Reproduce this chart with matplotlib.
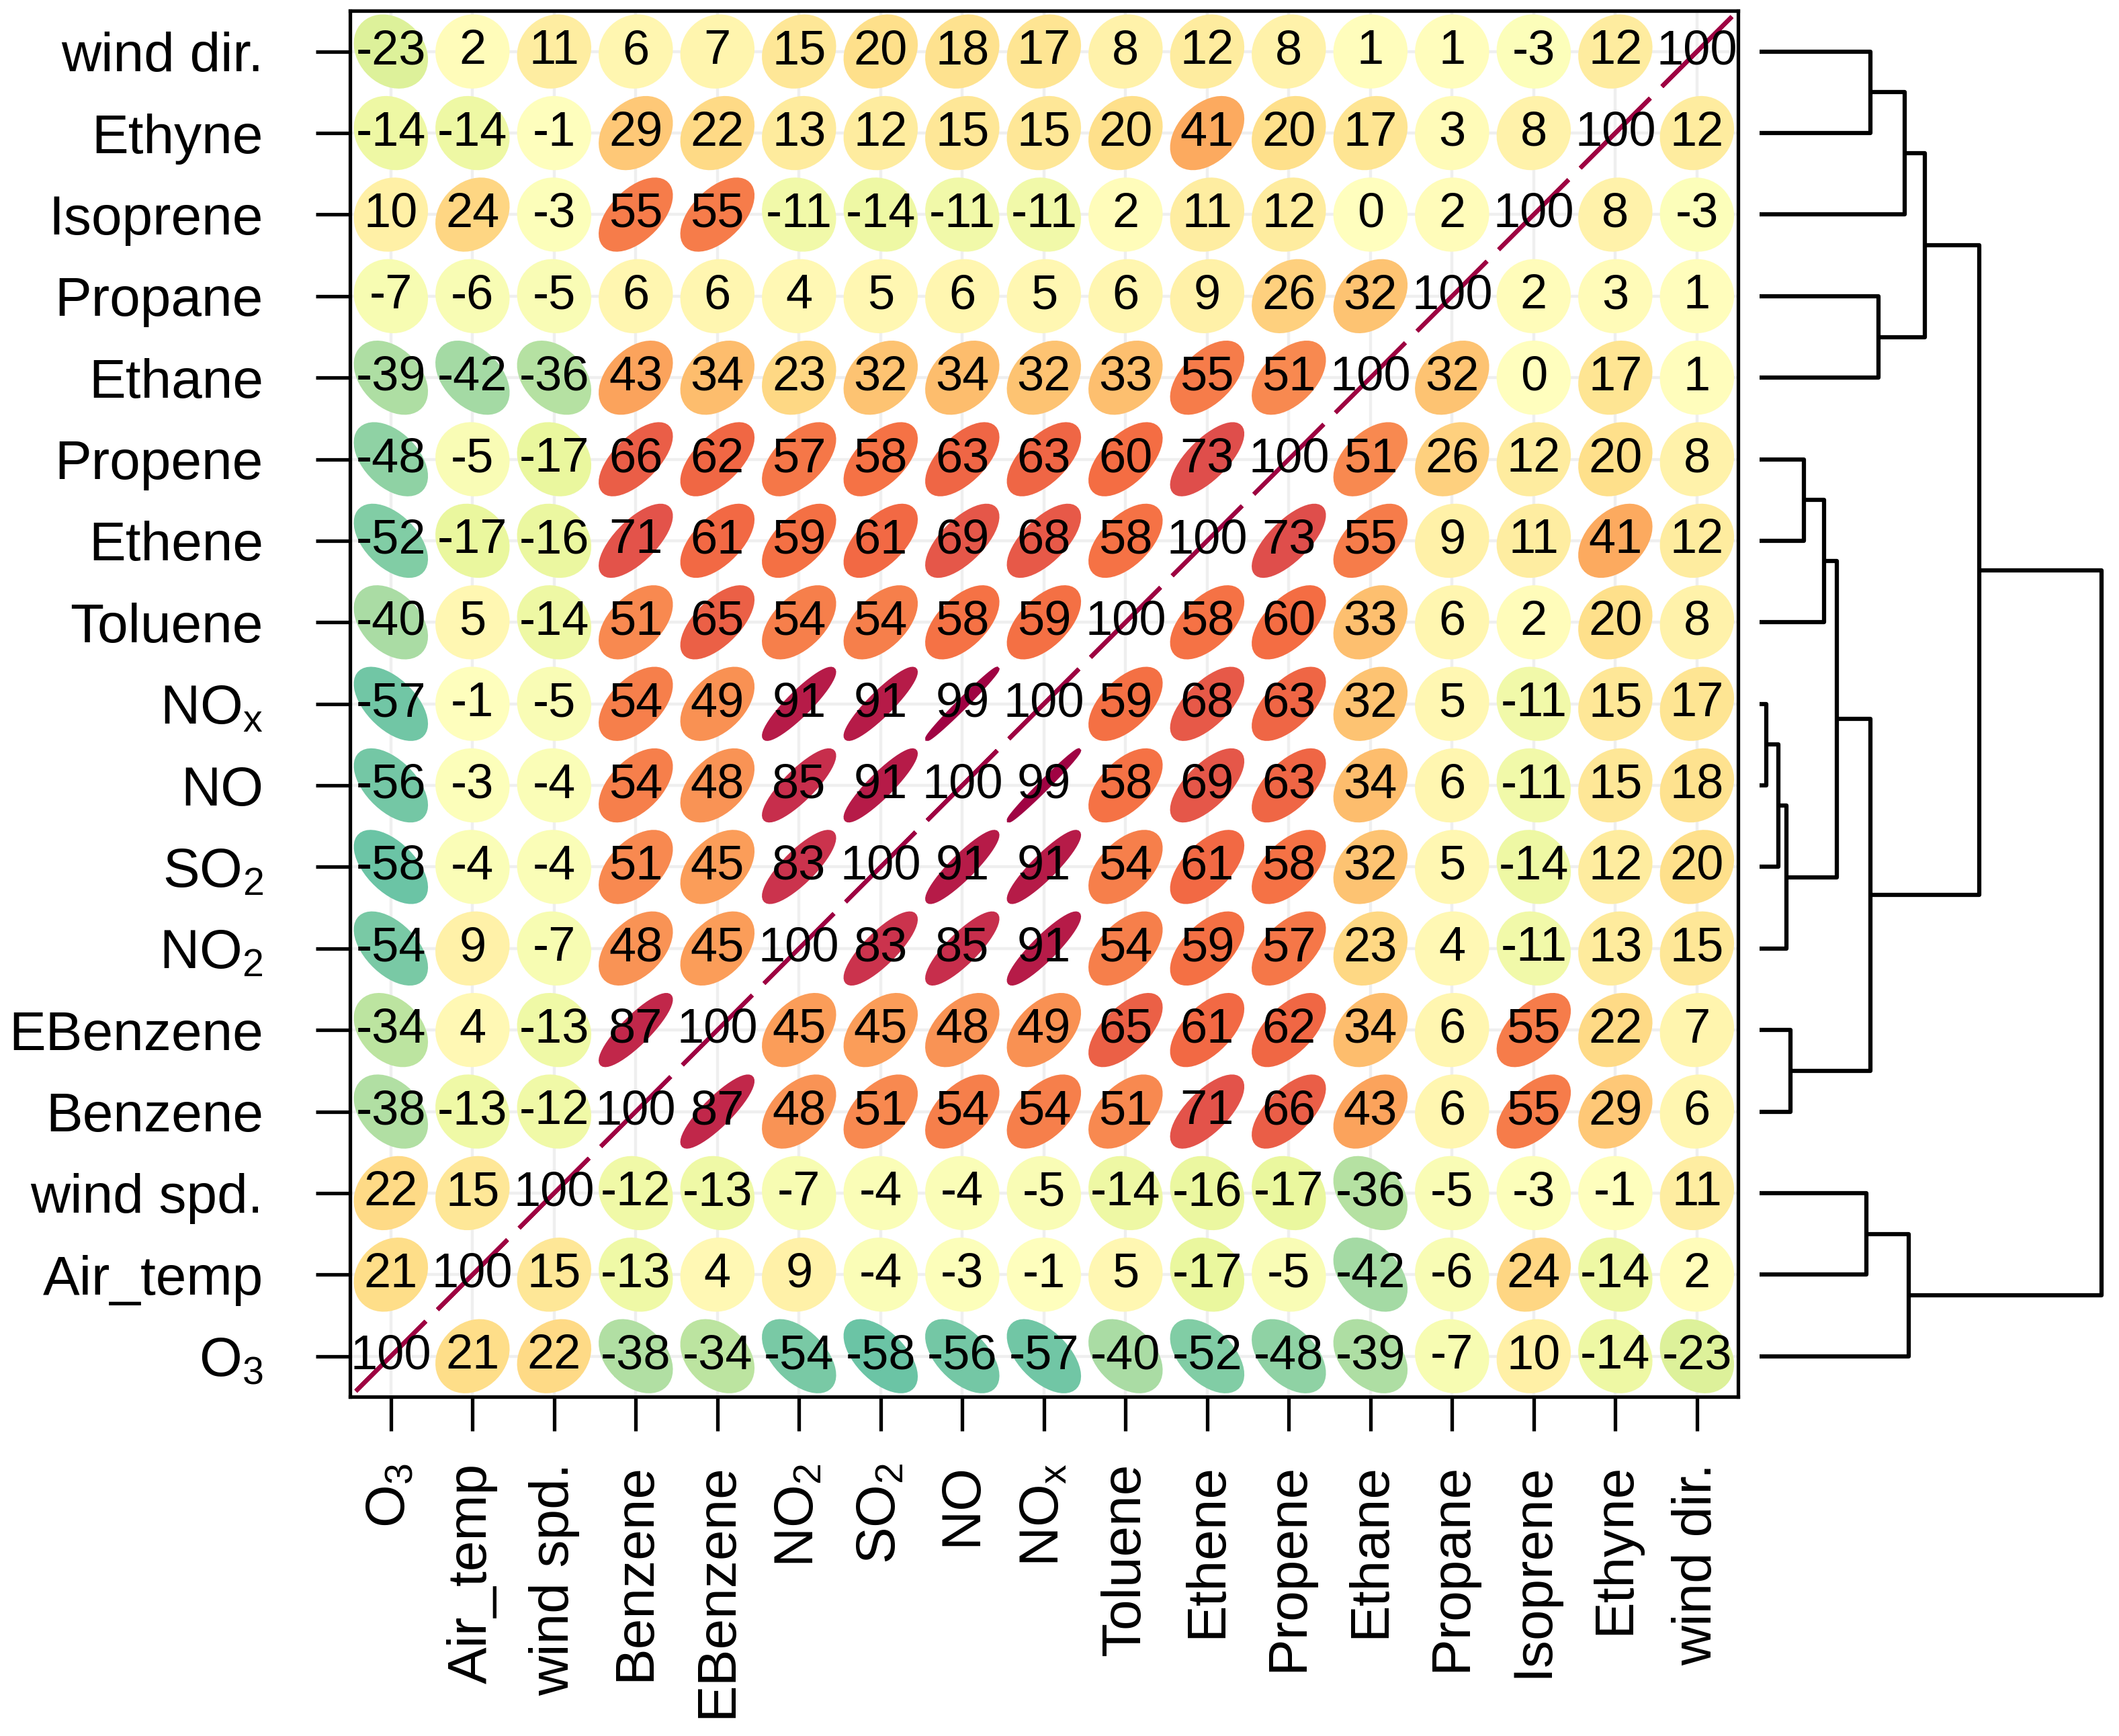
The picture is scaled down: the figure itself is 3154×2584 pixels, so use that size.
import numpy as np
import matplotlib
matplotlib.use('Agg')
import matplotlib.pyplot as plt
from matplotlib.patches import Polygon
from matplotlib.colors import Normalize

plt.rcParams['font.family'] = ['Liberation Sans', 'DejaVu Sans']
plt.rcParams['mathtext.fontset'] = 'custom'
plt.rcParams['mathtext.rm'] = 'Liberation Sans'

# ---- data (order = bottom-to-top on y, left-to-right on x) ----
variables = ['O3', 'Air_temp', 'wind spd.', 'Benzene', 'EBenzene', 'NO2', 'SO2',
             'NO', 'NOx', 'Toluene', 'Ethene', 'Propene', 'Ethane', 'Propane',
             'Isoprene', 'Ethyne', 'wind dir.']
labels = [r'$\mathregular{O_3}$', 'Air_temp', 'wind spd.', 'Benzene', 'EBenzene',
          r'$\mathregular{NO_2}$', r'$\mathregular{SO_2}$', 'NO', r'$\mathregular{NO_x}$',
          'Toluene', 'Ethene', 'Propene', 'Ethane', 'Propane', 'Isoprene',
          'Ethyne', 'wind dir.']

# correlation (x100), one row per variable, columns in the same order
corr_O3       = [100, 21, 22, -38, -34, -54, -58, -56, -57, -40, -52, -48, -39, -7, 10, -14, -23]
corr_Air_temp = [21, 100, 15, -13, 4, 9, -4, -3, -1, 5, -17, -5, -42, -6, 24, -14, 2]
corr_wind_spd = [22, 15, 100, -12, -13, -7, -4, -4, -5, -14, -16, -17, -36, -5, -3, -1, 11]
corr_Benzene  = [-38, -13, -12, 100, 87, 48, 51, 54, 54, 51, 71, 66, 43, 6, 55, 29, 6]
corr_EBenzene = [-34, 4, -13, 87, 100, 45, 45, 48, 49, 65, 61, 62, 34, 6, 55, 22, 7]
corr_NO2      = [-54, 9, -7, 48, 45, 100, 83, 85, 91, 54, 59, 57, 23, 4, -11, 13, 15]
corr_SO2      = [-58, -4, -4, 51, 45, 83, 100, 91, 91, 54, 61, 58, 32, 5, -14, 12, 20]
corr_NO       = [-56, -3, -4, 54, 48, 85, 91, 100, 99, 58, 69, 63, 34, 6, -11, 15, 18]
corr_NOx      = [-57, -1, -5, 54, 49, 91, 91, 99, 100, 59, 68, 63, 32, 5, -11, 15, 17]
corr_Toluene  = [-40, 5, -14, 51, 65, 54, 54, 58, 59, 100, 58, 60, 33, 6, 2, 20, 8]
corr_Ethene   = [-52, -17, -16, 71, 61, 59, 61, 69, 68, 58, 100, 73, 55, 9, 11, 41, 12]
corr_Propene  = [-48, -5, -17, 66, 62, 57, 58, 63, 63, 60, 73, 100, 51, 26, 12, 20, 8]
corr_Ethane   = [-39, -42, -36, 43, 34, 23, 32, 34, 32, 33, 55, 51, 100, 32, 0, 17, 1]
corr_Propane  = [-7, -6, -5, 6, 6, 4, 5, 6, 5, 6, 9, 26, 32, 100, 2, 3, 1]
corr_Isoprene = [10, 24, -3, 55, 55, -11, -14, -11, -11, 2, 11, 12, 0, 2, 100, 8, -3]
corr_Ethyne   = [-14, -14, -1, 29, 22, 13, 12, 15, 15, 20, 41, 20, 17, 3, 8, 100, 12]
corr_wind_dir = [-23, 2, 11, 6, 7, 15, 20, 18, 17, 8, 12, 8, 1, 1, -3, 12, 100]

corr = np.array([corr_O3, corr_Air_temp, corr_wind_spd, corr_Benzene, corr_EBenzene,
                 corr_NO2, corr_SO2, corr_NO, corr_NOx, corr_Toluene, corr_Ethene,
                 corr_Propene, corr_Ethane, corr_Propane, corr_Isoprene, corr_Ethyne,
                 corr_wind_dir])

# dendrogram merges: (left, right, height); 0..16 = variables, 17+ = earlier merges
merges = [
    (8, 7, 0.02),      # 17 NOx + NO
    (17, 6, 0.056),    # 18 + SO2
    (18, 5, 0.079),    # 19 + NO2
    (4, 3, 0.091),     # 20 EBenzene + Benzene
    (11, 10, 0.131),   # 21 Propene + Ethene
    (21, 9, 0.19),     # 22 + Toluene
    (22, 19, 0.226),   # 23
    (23, 20, 0.325),   # 24
    (16, 15, 0.325),   # 25 wind dir. + Ethyne
    (25, 14, 0.425),   # 26 + Isoprene
    (13, 12, 0.349),   # 27 Propane + Ethane
    (26, 27, 0.484),   # 28
    (2, 1, 0.313),     # 29 wind spd. + Air_temp
    (29, 0, 0.437),    # 30 + O3
    (28, 24, 0.643),   # 31
    (31, 30, 1.0),     # 32 root
]

# ---- figure ----
fig = plt.figure(figsize=(31.54, 25.84), dpi=100)
ax = fig.add_axes([0.1652, 0.1953, 0.6549, 0.7985])
n = len(variables)
ax.set_xlim(0.5, n + 0.5)
ax.set_ylim(0.5, n + 0.5)

# light reference lines through the cells
for k in range(1, n + 1):
    ax.axvline(k, color='#efefef', lw=3.2, zorder=0)
    ax.axhline(k, color='#efefef', lw=3.2, zorder=0)

cmap = plt.cm.Spectral_r
norm = Normalize(-1, 1)
rad = 0.2 * np.sqrt(-2 * np.log(1 - 0.9))
ang = np.linspace(-np.pi, np.pi, 50)

for i in range(n):          # row -> y
    for j in range(n):      # col -> x
        r = corr[i, j] / 100.0
        d = np.arccos(np.clip(r, -1, 1))
        px = (j + 1) + rad * np.cos(ang + d / 2)
        py = (i + 1) + rad * np.cos(ang - d / 2)
        col = cmap(norm(r))
        ax.add_patch(Polygon(np.column_stack([px, py]), closed=True,
                             facecolor=col, edgecolor=col, lw=4.5, zorder=2))
        ax.text(j + 1, i + 1, f'{corr[i, j]}', ha='center', va='center',
                fontsize=52, color='black', zorder=3)

ax.set_xticks(range(1, n + 1))
ax.set_yticks(range(1, n + 1))
ax.set_xticklabels(labels, rotation=90, fontsize=59)
ax.set_yticklabels(labels, fontsize=59)
ax.tick_params(axis='both', length=37, width=3.8, color='black')
ax.tick_params(axis='y', pad=56)
ax.tick_params(axis='x', pad=34)
for sp in ax.spines.values():
    sp.set_linewidth(3.8)
    sp.set_zorder(5)

# ---- dendrogram on the right ----
axd = fig.add_axes([0.8303, 0.1953, 0.1614, 0.7985])
axd.set_ylim(0.5, n + 0.5)
axd.set_xlim(0, merges[-1][2])
axd.axis('off')

node_y = {k: k + 1.0 for k in range(n)}
node_h = {k: 0.0 for k in range(n)}
for m, (a, b, h) in enumerate(merges):
    nid = n + m
    ya, yb = node_y[a], node_y[b]
    axd.plot([node_h[a], h, h, node_h[b]], [ya, ya, yb, yb],
             color='black', lw=4.5, solid_capstyle='butt', clip_on=False)
    node_y[nid] = (ya + yb) / 2
    node_h[nid] = h

fig.savefig('out.png', dpi=100)
